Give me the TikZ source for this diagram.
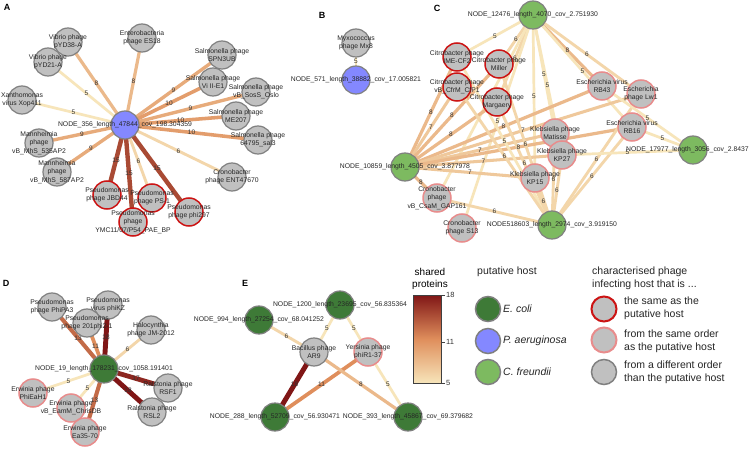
\documentclass[tikz,border=0pt]{standalone}
\usepackage{fontspec}
\setmainfont{Liberation Sans}
\pgfdeclarelayer{bg}
\pgfdeclarelayer{edges}
\pgfdeclarelayer{elabels}
\pgfsetlayers{bg,edges,elabels,main}
\definecolor{c5}{RGB}{247,229,186}
\definecolor{c11}{RGB}{223,142,92}
\definecolor{c18}{RGB}{128,22,22}
\colorlet{w5}{c5}
\colorlet{w6}{c11!17!c5}
\colorlet{w7}{c11!33!c5}
\colorlet{w8}{c11!50!c5}
\colorlet{w9}{c11!67!c5}
\colorlet{w10}{c11!83!c5}
\colorlet{w11}{c11}
\colorlet{w12}{c18!14!c11}
\colorlet{w13}{c18!29!c11}
\colorlet{w14}{c18!43!c11}
\colorlet{w15}{c18!57!c11}
\colorlet{w16}{c18!71!c11}
\colorlet{w17}{c18!86!c11}
\colorlet{w18}{c18}
\definecolor{nfill}{RGB}{192,192,192}
\definecolor{nborder}{RGB}{128,128,128}
\definecolor{hred}{RGB}{204,20,20}
\definecolor{hpink}{RGB}{232,140,140}
\definecolor{ecolc}{RGB}{62,122,55}
\definecolor{paerc}{RGB}{132,136,255}
\definecolor{cfrc}{RGB}{125,186,96}
\tikzset{
 nd/.style={circle, minimum size=28pt, inner sep=0pt, line width=1.2pt, draw=nborder, fill=nfill},
 hostnd/.style={nd, draw=hred, line width=1.5pt},
 ordnd/.style={nd, draw=hpink, line width=1.5pt},
 ecnd/.style={nd, fill=ecolc},
 pand/.style={nd, fill=paerc},
 cfnd/.style={nd, fill=cfrc},
 ntext/.style={font=\fontsize{6.8}{8.3}\selectfont, align=center, inner sep=0pt, text=black!85},
 elab/.style={font=\fontsize{6.5}{7}\selectfont, inner sep=0.5pt, text=black!80},
 panel/.style={font=\fontsize{9}{10}\selectfont\bfseries, anchor=center},
 legtext/.style={font=\fontsize{10.5}{12.7}\selectfont, align=left, anchor=west, inner sep=0pt, text=black!85},
 legnd/.style={minimum size=25pt, line width=2pt},
}
\newcommand\mknode[4]{\node[#1] (#2) at (#3) {}; \node[ntext] at (#2) {#4};}
\newcommand\edg[3]{\pgfmathsetmacro\ew{2.7+0.17*(#3-5)}%
 \begin{pgfonlayer}{edges}\draw[line width=\ew pt, draw=w#3] (#1.center) -- (#2.center);\end{pgfonlayer}%
 \begin{pgfonlayer}{elabels}\path (#1.center) -- (#2.center) node[elab, midway]{#3};\end{pgfonlayer}}
\begin{document}
\begin{tikzpicture}[x=1pt,y=-1pt]
\begin{pgfonlayer}{bg}
\fill[white] (0,0) rectangle (749,449);
\end{pgfonlayer}
\useasboundingbox (0,0) rectangle (749,449);
% panel letters
\node[panel] (pA) at (7,7) {A};
\node[panel] (pB) at (322,15) {B};
\node[panel] (pC) at (437,8) {C};
\node[panel] (pD) at (6,283) {D};
\node[panel] (pE) at (245,283) {E};
% ---------------- A
\mknode{pand}{a0}{125,125}{NODE\_356\_length\_47844\_cov\_198.304359}
\mknode{nd}{vyd38}{68,42}{Vibrio phage\\pYD38-A}
\mknode{nd}{vyd21}{48,62}{Vibrio phage\\pYD21-A}
\mknode{nd}{es18}{142,38}{Enterobacteria\\phage ES18}
\mknode{nd}{xop}{22,100}{Xanthomonas\\virus Xop411}
\mknode{nd}{spn}{222,55}{Salmonella phage\\SPN3UB}
\mknode{nd}{vi2}{213,82}{Salmonella phage\\Vi II-E1}
\mknode{nd}{oslo}{256,92}{Salmonella phage\\vB\_SosS\_Oslo}
\mknode{nd}{me207}{236,116}{Salmonella phage\\ME207}
\mknode{nd}{sal3}{258,140}{Salmonella phage\\64795\_sal3}
\mknode{nd}{ent}{232,177}{Cronobacter\\phage ENT47670}
\mknode{nd}{m535}{39,143}{Mannheimia\\phage\\vB\_MhS\_535AP2}
\mknode{nd}{m587}{57,172}{Mannheimia\\phage\\vB\_MhS\_587AP2}
\mknode{hostnd}{jbd}{107,195}{Pseudomonas\\phage JBD44}
\mknode{hostnd}{ps1}{152,198}{Pseudomonas\\phage PS-1}
\mknode{hostnd}{ymc}{133,222}{Pseudomonas\\phage\\YMC11/07/P54\_PAE\_BP}
\mknode{hostnd}{phi}{189,212}{Pseudomonas\\phage phi297}
\edg{a0}{vyd38}{8}
\edg{a0}{vyd21}{5}
\edg{a0}{es18}{8}
\edg{a0}{xop}{5}
\edg{a0}{spn}{9}
\edg{a0}{vi2}{10}
\edg{a0}{oslo}{9}
\edg{a0}{me207}{10}
\edg{a0}{sal3}{10}
\edg{a0}{ent}{6}
\edg{a0}{m535}{9}
\edg{a0}{m587}{9}
\edg{a0}{jbd}{15}
\edg{a0}{ps1}{6}
\edg{a0}{ymc}{15}
\edg{a0}{phi}{15}
% ---------------- B
\mknode{nd}{myxo}{356,43}{Myxococcus\\phage Mx8}
\mknode{pand}{b0}{356,80}{NODE\_571\_length\_38882\_cov\_17.005821}
\edg{b0}{myxo}{5}
% ---------------- C
\mknode{cfnd}{c1}{533,15}{NODE\_12476\_length\_4070\_cov\_2.751930}
\mknode{cfnd}{c2}{405,167}{NODE\_10859\_length\_4505\_cov\_3.877978}
\mknode{cfnd}{c3}{552,225}{NODE518603\_length\_2974\_cov\_3.919150}
\node[cfnd] (c4) at (693,150) {};
\node[ntext, anchor=west] at (626,150) {NODE\_17977\_length\_3056\_cov\_2.8437};
\mknode{hostnd}{cf2}{457,57}{Citrobacter phage\\IME-CF2}
\mknode{hostnd}{mil}{499,64}{Citrobacter phage\\Miller}
\mknode{hostnd}{cfp}{457,87}{Citrobacter phage\\vB\_CfrM\_CfP1}
\mknode{hostnd}{mar}{497,102}{Citrobacter phage\\Margaery}
\mknode{ordnd}{mat}{555,133}{Klebsiella phage\\Matisse}
\mknode{ordnd}{k27}{562,155}{Klebsiella phage\\KP27}
\mknode{ordnd}{k15}{535,178}{Klebsiella phage\\KP15}
\mknode{ordnd}{rb43}{602,86}{Escherichia virus\\RB43}
\mknode{ordnd}{lw1}{641,94}{Escherichia\\phage Lw1}
\mknode{ordnd}{rb16}{632,127}{Escherichia virus\\RB16}
\mknode{ordnd}{gap}{437,198}{Cronobacter\\phage\\vB\_CsaM\_GAP161}
\mknode{ordnd}{s13}{462,228}{Cronobacter\\phage S13}
\edg{c1}{cf2}{5}
\edg{c1}{mil}{6}
\edg{c1}{mar}{6}
\edg{c1}{rb43}{8}
\edg{c1}{lw1}{6}
\edg{c1}{rb16}{5}
\edg{c1}{mat}{5}
\edg{c1}{k27}{5}
\edg{c1}{k15}{5}
\edg{c1}{gap}{5}
\edg{c1}{s13}{5}
\edg{c2}{cf2}{8}
\edg{c2}{cfp}{7}
\edg{c2}{mil}{8}
\edg{c2}{mar}{8}
\edg{c2}{mat}{7}
\edg{c2}{k27}{7}
\edg{c2}{k15}{7}
\edg{c2}{rb43}{8}
\edg{c2}{lw1}{7}
\edg{c2}{rb16}{8}
\edg{c2}{gap}{8}
\edg{c3}{mat}{6}
\edg{c3}{k27}{6}
\edg{c3}{k15}{6}
\edg{c3}{gap}{6}
\edg{c3}{lw1}{6}
\edg{c3}{rb16}{6}
\edg{c3}{cf2}{5}
\edg{c3}{mil}{6}
\edg{c3}{cfp}{6}
\edg{c3}{mar}{6}
\edg{c4}{rb16}{5}
\edg{c4}{rb43}{5}
\edg{c4}{k27}{5}
% ---------------- D
\mknode{ecnd}{d0}{104,369}{NODE\_19\_length\_178231\_cov\_1058.191401}
\mknode{nd}{pa3}{52,307}{Pseudomonas\\phage PhiPA3}
\mknode{nd}{kz}{108,305}{Pseudomonas\\virus phiKZ}
\mknode{nd}{p201}{87,323}{Pseudomonas\\phage 201phi2-1}
\mknode{nd}{jm}{151,330}{Halocynthia\\phage JM-2012}
\mknode{nd}{rsf}{168,388}{Ralstonia phage\\RSF1}
\mknode{nd}{rsl}{152,412}{Ralstonia phage\\RSL2}
\mknode{ordnd}{eah}{33,393}{Erwinia phage\\PhiEaH1}
\mknode{ordnd}{chr}{71,408}{Erwinia phage\\vB\_EamM\_ChrisDB}
\mknode{ordnd}{ea35}{85,432}{Erwinia phage\\Ea35-70}
\edg{d0}{pa3}{13}
\edg{d0}{kz}{18}
\edg{d0}{p201}{11}
\edg{d0}{jm}{6}
\edg{d0}{rsf}{17}
\edg{d0}{rsl}{18}
\edg{d0}{eah}{5}
\edg{d0}{chr}{5}
\edg{d0}{ea35}{13}
% ---------------- E
\mknode{ecnd}{e1}{340,305}{NODE\_1200\_length\_23695\_cov\_56.835364}
\mknode{ecnd}{e2}{259,320}{NODE\_994\_length\_27254\_cov\_68.041252}
\mknode{nd}{ar9}{314,352}{Bacillus phage\\AR9}
\mknode{ordnd}{yer}{368,352}{Yersinia phage\\phiR1-37}
\mknode{ecnd}{e3}{275,417}{NODE\_288\_length\_52709\_cov\_56.930471}
\mknode{ecnd}{e4}{408,417}{NODE\_393\_length\_45867\_cov\_69.379682}
\edg{e2}{ar9}{6}
\edg{e1}{ar9}{5}
\edg{e1}{yer}{5}
\edg{ar9}{e3}{18}
\edg{yer}{e3}{11}
\edg{ar9}{e4}{8}
\edg{yer}{e4}{5}
% ---------------- colour bar
\node[font=\fontsize{10}{12}\selectfont, align=center, inner sep=0pt] (cbt) at (430,279) {shared\\proteins};
\shade[top color=c18, bottom color=c5, middle color=c11, draw=black!75, line width=0.8pt] (413,295) rectangle (441,383);
\foreach \yy/\tt in {295/18, 342/11, 383/5}{
 \draw[black!75, line width=0.8pt] (441,\yy) -- (445,\yy);
 \node[anchor=west, inner sep=0pt, font=\fontsize{7.5}{8}\selectfont, text=black!80] at (446,\yy) {\tt};
}
% ---------------- legend
\node[legtext] (lh1) at (477,272) {putative host};
\node[nd, ecnd, legnd, line width=1.5pt] (l1) at (488,309) {};
\node[legtext] at (503,309) {\itshape E. coli};
\node[nd, pand, legnd, line width=1.5pt] (l2) at (488,341) {};
\node[legtext] at (503,341) {\itshape P. aeruginosa};
\node[nd, cfnd, legnd, line width=1.5pt] (l3) at (488,372) {};
\node[legtext] at (503,372) {\itshape C. freundii};
\node[legtext] (lh2) at (592,278) {characterised phage\\infecting host that is ...};
\node[hostnd, legnd] (l4) at (604,309) {};
\node[legtext] at (624,308.5) {the same as the\\putative host};
\node[ordnd, legnd] (l5) at (604,340) {};
\node[legtext] at (624,341.5) {from the same order\\as the putative host};
\node[nd, legnd, line width=1.5pt] (l6) at (604,372) {};
\node[legtext] at (624,372) {from a different order\\than the putative host};
\end{tikzpicture}
\end{document}
